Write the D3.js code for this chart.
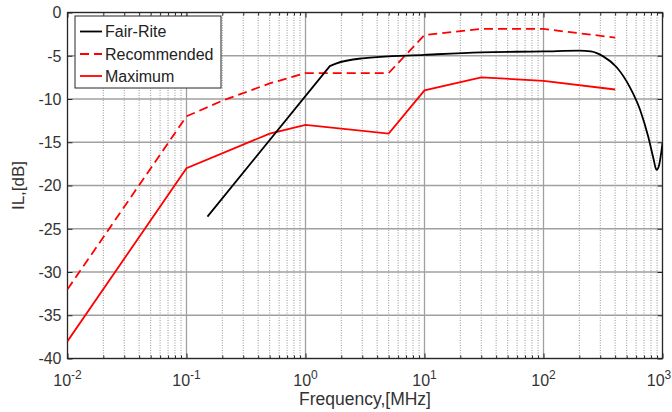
<!DOCTYPE html>
<html><head><meta charset="utf-8">
<script src="https://cdn.jsdelivr.net/npm/d3@7"></script>
<style>
html,body{margin:0;padding:0;background:#fff;}
svg{display:block;font-family:"Liberation Sans",Arial,Helvetica,sans-serif;}
</style></head>
<body><svg id="c" width="672" height="412"></svg>
<script>
// ---- data ----
const seriesNames = ["Fair-Rite", "Recommended", "Maximum"];
const fairRiteFreq = [0.15, 1.6, 1.8, 3, 10, 30, 100, 200, 250, 320, 410, 530, 650, 760, 840, 890, 930, 1000];
const fairRiteIL   = [-23.6, -6.2, -5.9, -5.3, -4.9, -4.6, -4.5, -4.4, -4.5, -5.1, -6.3, -8.6, -11.3, -14.4, -16.9, -18.2, -17.8, -15.1];
const recFreq = [0.01, 0.1, 0.2, 0.5, 1, 5, 10, 30, 100, 400];
const recIL   = [-32, -12, -10.2, -8.2, -7, -7, -2.6, -1.9, -1.9, -2.9];
const maxFreq = [0.01, 0.1, 0.5, 1, 5, 10, 30, 100, 400];
const maxIL   = [-38, -18, -14, -13, -14, -9, -7.5, -7.9, -8.9];
const xTickExps = [-2, -1, 0, 1, 2, 3];
const yTicks = [0, -5, -10, -15, -20, -25, -30, -35, -40];
const xLabel = "Frequency,[MHz]";
const yLabel = "IL,[dB]";

// ---- layout ----
const L = 67.5, R = 662.5, T = 12.5, B = 358.5;
const svg = d3.select("#c");
const x = d3.scaleLog().domain([1e-2, 1e3]).range([L, R]);
const y = d3.scaleLinear().domain([-40, 0]).range([B, T]);

const minorX = [];
for (let e = -2; e < 3; e++) for (let k = 2; k <= 9; k++) minorX.push(k * Math.pow(10, e));
const majorX = xTickExps.map(e => Math.pow(10, e));

const g = svg.append("g");
g.selectAll(".mg").data(minorX).enter().append("line")
  .attr("x1", d => x(d)).attr("x2", d => x(d)).attr("y1", T).attr("y2", B)
  .attr("stroke", "#959595").attr("stroke-width", 1).attr("stroke-dasharray", "1,1.5");
g.selectAll(".Mg").data(majorX).enter().append("line")
  .attr("x1", d => x(d)).attr("x2", d => x(d)).attr("y1", T).attr("y2", B)
  .attr("stroke", "#a0a0a0").attr("stroke-width", 1.3);
g.selectAll(".hg").data(yTicks).enter().append("line")
  .attr("x1", L).attr("x2", R).attr("y1", d => y(d)).attr("y2", d => y(d))
  .attr("stroke", "#a0a0a0").attr("stroke-width", 1.5);

const axB = d3.axisBottom(x).tickValues(majorX).tickSize(-5).tickFormat("");
const axT = d3.axisTop(x).tickValues(majorX).tickSize(-5).tickFormat("");
const axBm = d3.axisBottom(x).tickValues(minorX).tickSize(-3).tickFormat("");
const axTm = d3.axisTop(x).tickValues(minorX).tickSize(-3).tickFormat("");
const axLft = d3.axisLeft(y).tickValues(yTicks).tickSize(-5).tickFormat("");
const axRgt = d3.axisRight(y).tickValues(yTicks).tickSize(-5).tickFormat("");
[[axB, `translate(0,${B})`], [axBm, `translate(0,${B})`], [axT, `translate(0,${T})`], [axTm, `translate(0,${T})`],
 [axLft, `translate(${L},0)`], [axRgt, `translate(${R},0)`]].forEach(([a, tr]) => {
  const s = svg.append("g").attr("transform", tr).call(a);
  s.select(".domain").remove();
  s.selectAll("line").attr("stroke", "#262626").attr("stroke-width", 1);
});
svg.append("rect").attr("x", L).attr("y", T).attr("width", R - L).attr("height", B - T)
  .attr("fill", "none").attr("stroke", "#262626").attr("stroke-width", 1.2);

// tick labels
const yl = svg.append("g");
yl.selectAll("text").data(yTicks).enter().append("text")
  .attr("x", 61.5).attr("y", d => y(d)).attr("dy", "0.36em")
  .attr("text-anchor", "end").attr("font-size", 16).attr("fill", "#333")
  .text(d => d === 0 ? "0" : "-" + Math.abs(d));
const xl = svg.append("g");
xTickExps.forEach((e, i) => {
  const px = Math.min(x(Math.pow(10, e)), 659);
  const t = xl.append("text").attr("x", px).attr("y", 386)
    .attr("text-anchor", "middle").attr("font-size", 16).attr("fill", "#333");
  t.append("tspan").text("10");
  t.append("tspan").attr("dy", -7).attr("font-size", 12).text(e < 0 ? "-" + Math.abs(e) : String(e));
});
svg.append("text").attr("x", (L + R) / 2).attr("y", 405).attr("text-anchor", "middle")
  .attr("font-size", 17.5).attr("fill", "#333").text(xLabel);
svg.append("text").attr("transform", `translate(24,${(T + B) / 2}) rotate(-90)`)
  .attr("text-anchor", "middle").attr("font-size", 17).attr("fill", "#333").text(yLabel);

// lines
svg.append("clipPath").attr("id", "pc").append("rect")
  .attr("x", L).attr("y", T).attr("width", R - L).attr("height", B - T);
const line = d3.line().x(d => x(d[0])).y(d => y(d[1]));
const curveLine = d3.line().x(d => x(d[0])).y(d => y(d[1])).curve(d3.curveMonotoneX);
const pg = svg.append("g").attr("clip-path", "url(#pc)");
pg.append("path").datum(recFreq.map((f, i) => [f, recIL[i]])).attr("d", line)
  .attr("fill", "none").attr("stroke", "#ff0000").attr("stroke-width", 1.8).attr("stroke-dasharray", "9,5");
pg.append("path").datum(maxFreq.map((f, i) => [f, maxIL[i]])).attr("d", line)
  .attr("fill", "none").attr("stroke", "#ff0000").attr("stroke-width", 1.8);
const frPts = fairRiteFreq.map((f, i) => [f, fairRiteIL[i]]);
// straight rising segment, then smooth plateau and roll-off
const frPath = line(frPts.slice(0, 2)) + curveLine(frPts.slice(1)).replace(/^M/, "L");
pg.append("path").attr("d", frPath)
  .attr("fill", "none").attr("stroke", "#000").attr("stroke-width", 1.8).attr("stroke-linejoin", "round");

// legend
const lg = svg.append("g");
lg.append("rect").attr("x", 75).attr("y", 16).attr("width", 146).attr("height", 72)
  .attr("fill", "#fff").attr("stroke", "#262626").attr("stroke-width", 1);
const legStyles = [
  { c: "#000", dash: null },
  { c: "#ff0000", dash: "9,5" },
  { c: "#ff0000", dash: null }
];
const legY = [31.5, 54, 76];
seriesNames.forEach((n, i) => {
  lg.append("line").attr("x1", 80).attr("x2", 102).attr("y1", legY[i]).attr("y2", legY[i])
    .attr("stroke", legStyles[i].c).attr("stroke-width", 1.8)
    .attr("stroke-dasharray", legStyles[i].dash);
  lg.append("text").attr("x", 105).attr("y", legY[i]).attr("dy", "0.36em")
    .attr("font-size", 16).attr("fill", "#222").text(n);
});
</script></body></html>
